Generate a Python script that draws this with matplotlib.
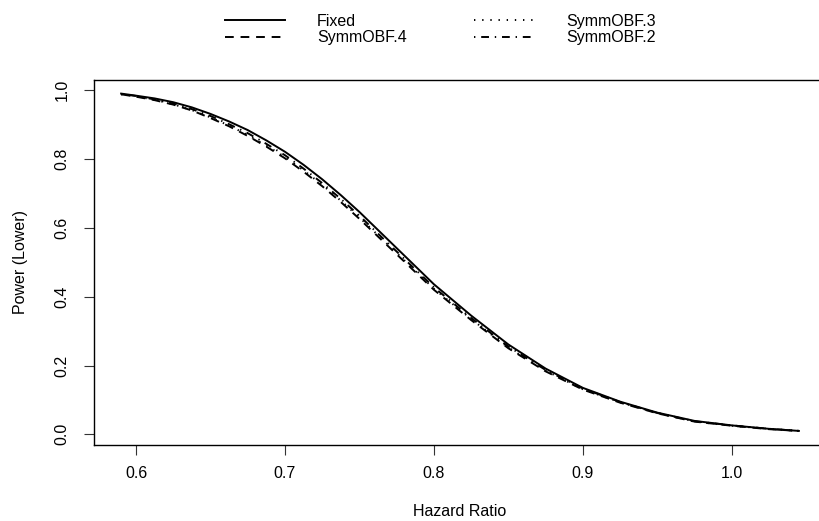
#!/usr/bin/env python3
import matplotlib
matplotlib.use("Agg")
import matplotlib.pyplot as plt

# --- data ---
hazard_ratio = [0.59, 0.60, 0.6125, 0.625, 0.6375, 0.65, 0.6625, 0.675, 0.6875, 0.70,
                0.7125, 0.725, 0.7375, 0.75, 0.775, 0.80, 0.825, 0.85, 0.875, 0.90,
                0.925, 0.95, 0.975, 1.00, 1.025, 1.045]

power_fixed = [0.990, 0.984, 0.976, 0.965, 0.950, 0.931, 0.909, 0.884, 0.854, 0.821,
               0.783, 0.741, 0.695, 0.646, 0.541, 0.436, 0.345, 0.261, 0.191, 0.135,
               0.095, 0.063, 0.039, 0.026, 0.016, 0.010]
power_obf4 = [0.988, 0.981, 0.971, 0.958, 0.941, 0.919, 0.895, 0.867, 0.836, 0.802,
              0.763, 0.721, 0.675, 0.626, 0.523, 0.420, 0.332, 0.250, 0.183, 0.130,
              0.092, 0.061, 0.037, 0.025, 0.015, 0.010]
power_obf3 = [0.988, 0.982, 0.972, 0.959, 0.942, 0.921, 0.897, 0.870, 0.839, 0.806,
              0.767, 0.725, 0.679, 0.630, 0.527, 0.423, 0.335, 0.252, 0.185, 0.131,
              0.093, 0.062, 0.037, 0.025, 0.016, 0.010]
power_obf2 = [0.989, 0.983, 0.973, 0.961, 0.945, 0.925, 0.901, 0.875, 0.844, 0.811,
              0.772, 0.730, 0.684, 0.635, 0.531, 0.427, 0.338, 0.255, 0.187, 0.133,
              0.094, 0.062, 0.038, 0.026, 0.016, 0.010]

series_labels = ["Fixed", "SymmOBF.4", "SymmOBF.3", "SymmOBF.2"]
x_ticks = [0.6, 0.7, 0.8, 0.9, 1.0]
y_ticks = [0.0, 0.2, 0.4, 0.6, 0.8, 1.0]

plt.rcParams['font.family'] = ['Liberation Sans', 'DejaVu Sans']
plt.rcParams['font.size'] = 11.5

fig = plt.figure(figsize=(8.2, 5.21), dpi=100)
# plot region in pixels: left 94, right 826 (runs past the edge), top 80, bottom 444.5
ax = fig.add_axes([94 / 820, (521 - 444.5) / 521, (826 - 94) / 820, (444.5 - 80) / 521])

lw = 1.4
ax.plot(hazard_ratio, power_fixed, color='black', lw=lw, linestyle='-', label=series_labels[0])
ax.plot(hazard_ratio, power_obf4, color='black', lw=lw, linestyle=(0, (4.5, 3.5)), label=series_labels[1])
ax.plot(hazard_ratio, power_obf3, color='black', lw=lw, linestyle=(0, (0.7, 3.5)), label=series_labels[2])
ax.plot(hazard_ratio, power_obf2, color='black', lw=lw, linestyle=(0, (0.7, 3.0, 4.0, 3.0)), label=series_labels[3])

ax.set_xlim(0.5718, 1.0632)
ax.set_ylim(-0.0295, 1.0295)
ax.set_xticks(x_ticks)
ax.set_xticklabels([f"{t:.1f}" for t in x_ticks])
ax.set_yticks(y_ticks)
ax.set_yticklabels([f"{t:.1f}" for t in y_ticks], rotation=90, va='center')
ax.tick_params(direction='out', length=7.2, width=0.8, color='#333333', labelsize=11.5)
ax.tick_params(axis='x', pad=8)
ax.tick_params(axis='y', pad=10.5)

for side in ax.spines.values():
    side.set_linewidth(1.0)
    side.set_color('black')

ax.set_xlabel("Hazard Ratio", labelpad=16.5)
ax.set_ylabel("Power (Lower)", labelpad=19)

# legend above the plot, no frame, handles start at x = 225 px
fig.legend(loc='upper left', bbox_to_anchor=(225 / 820, 1 - 14 / 521), ncol=2, frameon=False,
           borderpad=0, borderaxespad=0,
           handlelength=3.75, handletextpad=2.0, columnspacing=4.25, labelspacing=0.08)

fig.savefig("out.png", dpi=100)
plt.close('all')
